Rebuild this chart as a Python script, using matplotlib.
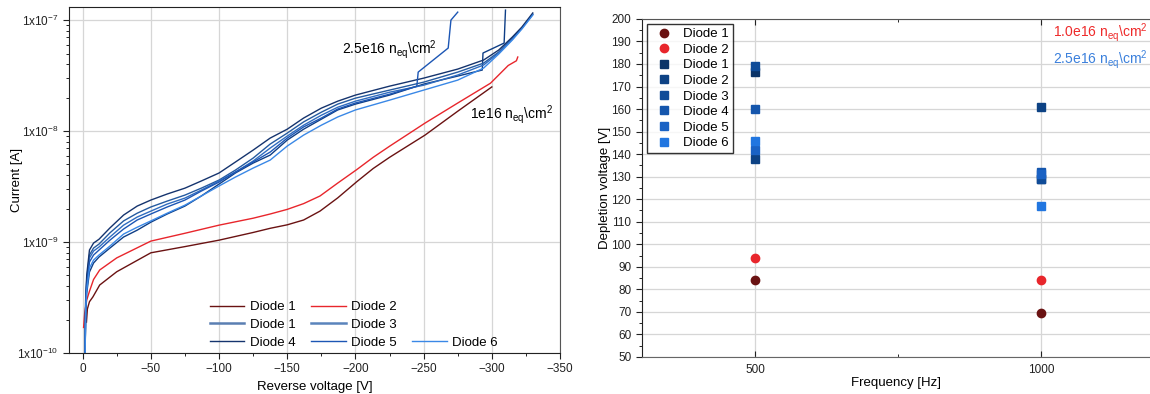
import numpy as np
import matplotlib.pyplot as plt
from matplotlib.ticker import LogLocator, MultipleLocator, FixedLocator, NullFormatter
from matplotlib.lines import Line2D

plt.rcParams['font.family'] = ['Liberation Sans', 'DejaVu Sans']
plt.rcParams['mathtext.default'] = 'regular'

# ---- left panel: IV curves (reverse voltage [V], current [A]) ----
# 1e16 neq/cm2 diodes
v_d1_red = [-2.8, -3.5, -5, -7.5, -12.5, -25, -50, -75, -100, -125, -137.5, -150, -162, -174, -187, -201, -213,
            -225, -251, -275, -300]
i_d1_red = [1.9e-10, 2.5e-10, 2.9e-10, 3.2e-10, 4.1e-10, 5.4e-10, 8.0e-10, 9.1e-10, 1.04e-9, 1.22e-9, 1.33e-9,
            1.43e-9, 1.58e-9, 1.9e-9, 2.5e-9, 3.5e-9, 4.6e-9, 5.8e-9, 9.2e-9, 1.51e-8, 2.5e-8]

v_d2_red = [-0.7, -1.5, -3, -5, -8, -12.5, -25, -50, -75, -100, -125, -137.5, -150, -162, -174, -187, -201, -213,
            -225, -251, -275, -299, -312, -318, -319]
i_d2_red = [1.7e-10, 2.3e-10, 3.0e-10, 3.6e-10, 4.6e-10, 5.6e-10, 7.2e-10, 1.02e-9, 1.2e-9, 1.42e-9, 1.64e-9,
            1.79e-9, 1.97e-9, 2.22e-9, 2.6e-9, 3.4e-9, 4.5e-9, 5.8e-9, 7.3e-9, 1.18e-8, 1.79e-8, 2.7e-8, 3.9e-8,
            4.3e-8, 4.65e-8]

# 2.5e16 neq/cm2 diodes
v_blue = [-1.8, -2.2, -3, -5, -8, -12, -20, -30, -40, -50, -62, -75, -87, -100, -112, -125, -137.5, -150, -162,
          -175, -187, -200, -225, -250, -275, -294, -305, -315, -322, -330]
i_d4_blue = [9e-11, 3.0e-10, 5.04e-10, 8.47e-10, 9.79e-10, 1.06e-9, 1.34e-9, 1.75e-9, 2.11e-9, 2.39e-9, 2.71e-9,
             3.06e-9, 3.55e-9, 4.19e-9, 5.26e-9, 6.74e-9, 8.65e-9, 1.04e-8, 1.31e-8, 1.61e-8, 1.86e-8, 2.11e-8,
             2.54e-8, 3.0e-8, 3.62e-8, 4.37e-8, 5.37e-8, 7.03e-8, 8.65e-8, 1.16e-7]
i_d1_blue = [9e-11, 2.82e-10, 4.64e-10, 7.64e-10, 8.83e-10, 9.59e-10, 1.21e-9, 1.55e-9, 1.82e-9, 2.07e-9, 2.34e-9,
             2.65e-9, 3.06e-9, 3.62e-9, 4.45e-9, 5.71e-9, 7.64e-9, 9.59e-9, 1.21e-8, 1.48e-8, 1.75e-8, 1.98e-8,
             2.34e-8, 2.76e-8, 3.40e-8, 4.10e-8, 5.15e-8, 6.88e-8, 8.47e-8, 1.13e-7]
i_d3_blue = [9e-11, 2.65e-10, 4.36e-10, 7.18e-10, 8.30e-10, 9.02e-10, 1.11e-9, 1.42e-9, 1.68e-9, 1.90e-9, 2.20e-9,
             2.49e-9, 2.94e-9, 3.55e-9, 4.27e-9, 5.37e-9, 7.03e-9, 9.02e-9, 1.13e-8, 1.39e-8, 1.64e-8, 1.86e-8,
             2.24e-8, 2.59e-8, 3.20e-8, 3.94e-8, 5.05e-8, 6.74e-8, 8.47e-8, 1.13e-7]
i_d6_blue = [9e-11, 2.44e-10, 3.70e-10, 5.83e-10, 6.88e-10, 7.64e-10, 9.20e-10, 1.18e-9, 1.36e-9, 1.55e-9, 1.82e-9,
             2.15e-9, 2.60e-9, 3.20e-9, 3.85e-9, 4.64e-9, 5.48e-9, 7.33e-9, 9.20e-9, 1.13e-8, 1.34e-8, 1.55e-8,
             1.90e-8, 2.34e-8, 2.88e-8, 3.70e-8, 4.94e-8, 6.61e-8, 8.30e-8, 1.11e-7]

v_d5_blue = [-1.8, -2.2, -3, -5, -8, -12, -20, -30, -40, -50, -62, -75, -87, -100, -112, -125, -137.5, -150, -162,
             -175, -187, -200, -225, -245, -246, -268, -270, -275]
i_d5_blue = [9e-11, 2.54e-10, 4.10e-10, 6.61e-10, 7.64e-10, 8.47e-10, 1.04e-9, 1.31e-9, 1.58e-9, 1.79e-9, 2.07e-9,
             2.39e-9, 2.88e-9, 3.47e-9, 4.27e-9, 5.26e-9, 6.47e-9, 8.65e-9, 1.09e-8, 1.31e-8, 1.58e-8, 1.79e-8,
             2.15e-8, 2.54e-8, 3.40e-8, 5.60e-8, 1.0e-7, 1.18e-7]

v_d2_blue = [-1.8, -2.2, -3, -5, -8, -12, -20, -30, -40, -50, -62, -75, -87, -100, -112, -125, -137.5, -150, -162,
             -175, -187, -200, -225, -250, -275, -293, -293.5, -309, -310]
i_d2_blue = [9e-11, 2.34e-10, 3.47e-10, 5.37e-10, 6.47e-10, 7.33e-10, 8.83e-10, 1.11e-9, 1.28e-9, 1.51e-9, 1.79e-9,
             2.11e-9, 2.60e-9, 3.33e-9, 4.19e-9, 5.15e-9, 6.08e-9, 8.30e-9, 1.04e-8, 1.28e-8, 1.55e-8, 1.75e-8,
             2.11e-8, 2.65e-8, 3.13e-8, 3.55e-8, 5.05e-8, 6.21e-8, 1.23e-7]

# ---- right panel: depletion voltage vs frequency ----
freq = [500, 1000]
dep_low = {'Diode 1': [84, 69.5], 'Diode 2': [94, 84]}
dep_high = {'Diode 1': [176.5, 129], 'Diode 2': [138, 161], 'Diode 3': [179, 129],
            'Diode 4': [160, 132], 'Diode 5': [142, 131], 'Diode 6': [146, 117]}

c_dred = '#6a1212'
c_red = '#e8262c'
sq_colors = ['#0b3468', '#0d4284', '#104c98', '#1556ac', '#1a62c4', '#2176e0']

fig = plt.figure(figsize=(11.5, 3.94), dpi=100)
ax1 = fig.add_axes([0.060, 0.104, 0.427, 0.878])
ax2 = fig.add_axes([0.558, 0.094, 0.442, 0.858])

# left panel
ax1.plot(v_d1_red, i_d1_red, color=c_dred, lw=1.0)
ax1.plot(v_d2_red, i_d2_red, color=c_red, lw=1.0)
ax1.plot(v_d2_blue, i_d2_blue, color='#0e3e86', lw=1.0)
ax1.plot(v_blue, i_d1_blue, color='#245aa0', lw=1.0)
ax1.plot(v_blue, i_d3_blue, color='#2f6cc0', lw=1.0)
ax1.plot(v_blue, i_d4_blue, color='#15346e', lw=1.0)
ax1.plot(v_d5_blue, i_d5_blue, color='#1c56b4', lw=1.0)
ax1.plot(v_blue, i_d6_blue, color='#3a88e6', lw=1.0)

ax1.set_yscale('log')
ax1.set_xlim(10, -350)
ax1.set_ylim(1e-10, 1.31e-7)
ax1.set_yticks([1e-10, 1e-9, 1e-8, 1e-7])
ax1.set_yticklabels(['1x10$^{-10}$', '1x10$^{-9}$', '1x10$^{-8}$', '1x10$^{-7}$'])
ax1.yaxis.set_minor_locator(LogLocator(base=10, subs=np.arange(2, 10)))
ax1.yaxis.set_minor_formatter(NullFormatter())
ax1.xaxis.set_major_locator(MultipleLocator(50))
ax1.xaxis.set_minor_locator(MultipleLocator(25))
ax1.xaxis.set_major_formatter(plt.FuncFormatter(lambda t, p: '0' if t == 0 else '\u2212%d' % abs(t)))
ax1.grid(True, which='major', color='#d6d6d6', lw=0.9)
ax1.tick_params(labelsize=8.5, length=4, width=0.8, colors='#222222')
ax1.tick_params(which='minor', length=2.5)
for s in ax1.spines.values():
    s.set_color('#222222')
ax1.spines['right'].set_color('#555555')
ax1.set_xlabel('Reverse voltage [V]', fontsize=9.5, labelpad=4)
ax1.set_ylabel('Current [A]', fontsize=9.5, labelpad=-4.5)

ax1.text(-190, 5.4e-8, '2.5e16 n$_{eq}$\\cm$^2$', fontsize=10, va='center', ha='left')
ax1.text(-284, 1.4e-8, '1e16 n$_{eq}$\\cm$^2$', fontsize=10, va='center', ha='left')

blank = Line2D([], [], color='none')
handles = [Line2D([], [], color=c_dred, lw=1.0),
           Line2D([], [], color='#5a7fb2', lw=1.8),
           Line2D([], [], color='#15346e', lw=1.0),
           Line2D([], [], color=c_red, lw=1.0),
           Line2D([], [], color='#5a84bc', lw=1.8),
           Line2D([], [], color='#1c56b4', lw=1.0),
           blank, blank,
           Line2D([], [], color='#3a88e6', lw=1.0)]
labels = ['Diode 1', 'Diode 1', 'Diode 4', 'Diode 2', 'Diode 3', 'Diode 5', '', '', 'Diode 6']
ax1.legend(handles, labels, ncol=3, loc='lower center', bbox_to_anchor=(0.58, -0.022), frameon=False,
           fontsize=9.5, handlelength=2.6, columnspacing=1.2, labelspacing=0.42, handletextpad=0.4)

# right panel
for (name, vals), col in zip(dep_low.items(), [c_dred, c_red]):
    ax2.plot(freq, vals, 'o', color=col, ms=6, label=name)
for (name, vals), col in zip(dep_high.items(), sq_colors):
    ax2.plot(freq, vals, 's', color=col, ms=6, label=name)

ax2.set_xlim(302, 1190)
ax2.set_ylim(50, 200)
ax2.xaxis.set_major_locator(FixedLocator([500, 1000]))
ax2.xaxis.set_minor_locator(FixedLocator([750]))
ax2.yaxis.set_major_locator(MultipleLocator(10))
ax2.yaxis.set_minor_locator(MultipleLocator(5))
ax2.grid(True, which='major', color='#d6d6d6', lw=0.9)
ax2.tick_params(labelsize=8.5, length=4, width=0.8, colors='#222222')
ax2.tick_params(which='minor', length=2.5)
ax2.tick_params(axis='x', which='both', direction='in', top=True, bottom=True, pad=5)
ax2.spines['right'].set_visible(False)
ax2.spines['top'].set_color('#555555')
ax2.spines['bottom'].set_color('#666666')
ax2.spines['left'].set_color('#222222')
ax2.set_xlabel('Frequency [Hz]', fontsize=9.5, labelpad=1)
ax2.set_ylabel('Depletion voltage [V]', fontsize=9.5, labelpad=0.5)

leg = ax2.legend(loc='upper left', fontsize=9.5, frameon=True, fancybox=False, edgecolor='black',
                 borderaxespad=0.4, labelspacing=0.25, handletextpad=0.45, borderpad=0.3)
leg.get_frame().set_linewidth(1.0)

ax2.text(0.995, 0.959, '1.0e16 n$_{eq}$\\cm$^2$', transform=ax2.transAxes, color='#ee2a2a',
         fontsize=10, ha='right', va='center')
ax2.text(0.995, 0.879, '2.5e16 n$_{eq}$\\cm$^2$', transform=ax2.transAxes, color='#3b80dc',
         fontsize=10, ha='right', va='center')

fig.savefig('out.png', dpi=100)
